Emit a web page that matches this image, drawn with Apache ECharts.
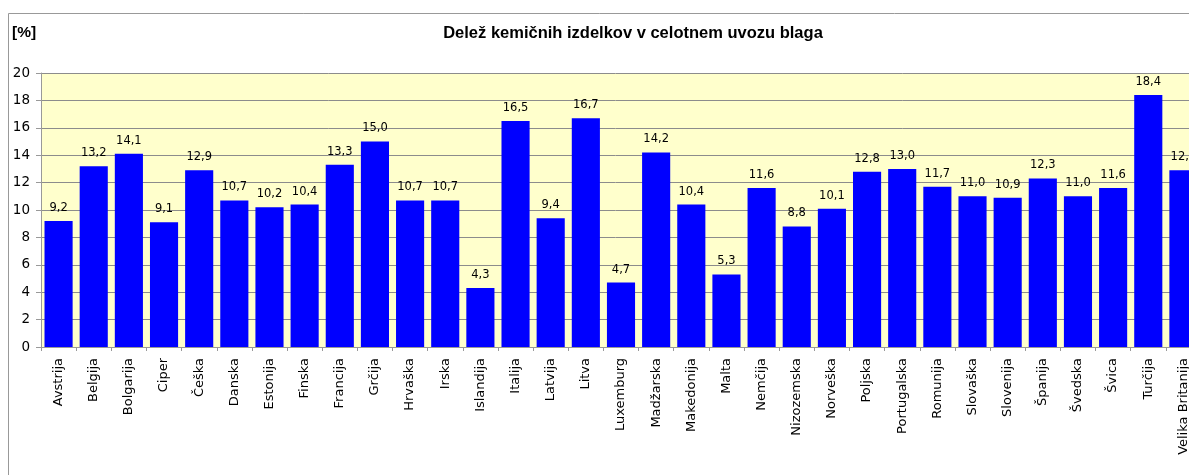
<!DOCTYPE html>
<html>
<head>
<meta charset="utf-8">
<script src="https://cdn.jsdelivr.net/npm/echarts@6/dist/echarts.min.js"></script>
<style>
html,body{margin:0;padding:0;background:#fff;}
#chart{width:1189px;height:475px;}
</style>
</head>
<body>
<div id="chart"></div>
<script>
const categories = ["Avstrija","Belgija","Bolgarija","Ciper","Češka","Danska","Estonija","Finska","Francija","Grčija","Hrvaška","Irska","Islandija","Italija","Latvija","Litva","Luxemburg","Madžarska","Makedonija","Malta","Nemčija","Nizozemska","Norveška","Poljska","Portugalska","Romunija","Slovaška","Slovenija","Španija","Švedska","Švica","Turčija","Velika Britanija"];
const values = [9.2,13.2,14.1,9.1,12.9,10.7,10.2,10.4,13.3,15.0,10.7,10.7,4.3,16.5,9.4,16.7,4.7,14.2,10.4,5.3,11.6,8.8,10.1,12.8,13.0,11.7,11.0,10.9,12.3,11.0,11.6,18.4,12.9];
const yMin = 0, yMax = 20, yStep = 2;
const titleText = "Delež kemičnih izdelkov v celotnem uvozu blaga";
const unitText = "[%]";

const chart = echarts.init(document.getElementById('chart'), null, {renderer:'canvas'});
chart.setOption({
  animation:false,
  backgroundColor:'#ffffff',
  title:{
    text:titleText,
    left:628, top:20, textAlign:'center',
    textStyle:{fontFamily:'Liberation Sans', fontWeight:'bold', fontSize:16.5, color:'#000'}
  },
  graphic:[
    {type:'rect', shape:{x:8.5,y:13.5,width:1300,height:600}, style:{fill:null, stroke:'#999', lineWidth:1}, silent:true, z:-1},
    {type:'text', left:12, top:25, style:{text:unitText, fontFamily:'Liberation Sans', fontWeight:'bold', fontSize:15.5, fill:'#000'}}
  ],
  grid:{left:41, top:73, width:1160, height:274, containLabel:false, outerBoundsMode:'none',
        show:true, backgroundColor:'#FFFFCC', borderWidth:0},
  xAxis:{
    type:'category', data:categories,
    axisLine:{lineStyle:{color:'#999', width:1}},
    axisTick:{show:true, length:4, lineStyle:{color:'#999'}},
    axisLabel:{interval:0, rotate:90, margin:11, fontFamily:'DejaVu Sans', fontSize:13, color:'#000'}
  },
  yAxis:{
    type:'value', min:yMin, max:yMax, interval:yStep,
    axisLine:{show:true, lineStyle:{color:'#999', width:1}},
    axisTick:{show:true, length:5, lineStyle:{color:'#999'}},
    axisLabel:{margin:11, fontFamily:'DejaVu Sans', fontSize:13.5, color:'#000'},
    splitLine:{show:true, lineStyle:{color:'#8c8c8c', width:1}}
  },
  series:[{
    type:'bar', data:values, barCategoryGap:'20%',
    itemStyle:{color:'#0000FF'},
    label:{show:true, position:'top', distance:7, fontFamily:'DejaVu Sans', fontSize:11.5, color:'#000',
      formatter:p=>p.value.toFixed(1).replace('.',',')}
  }]
});
</script>
</body>
</html>
